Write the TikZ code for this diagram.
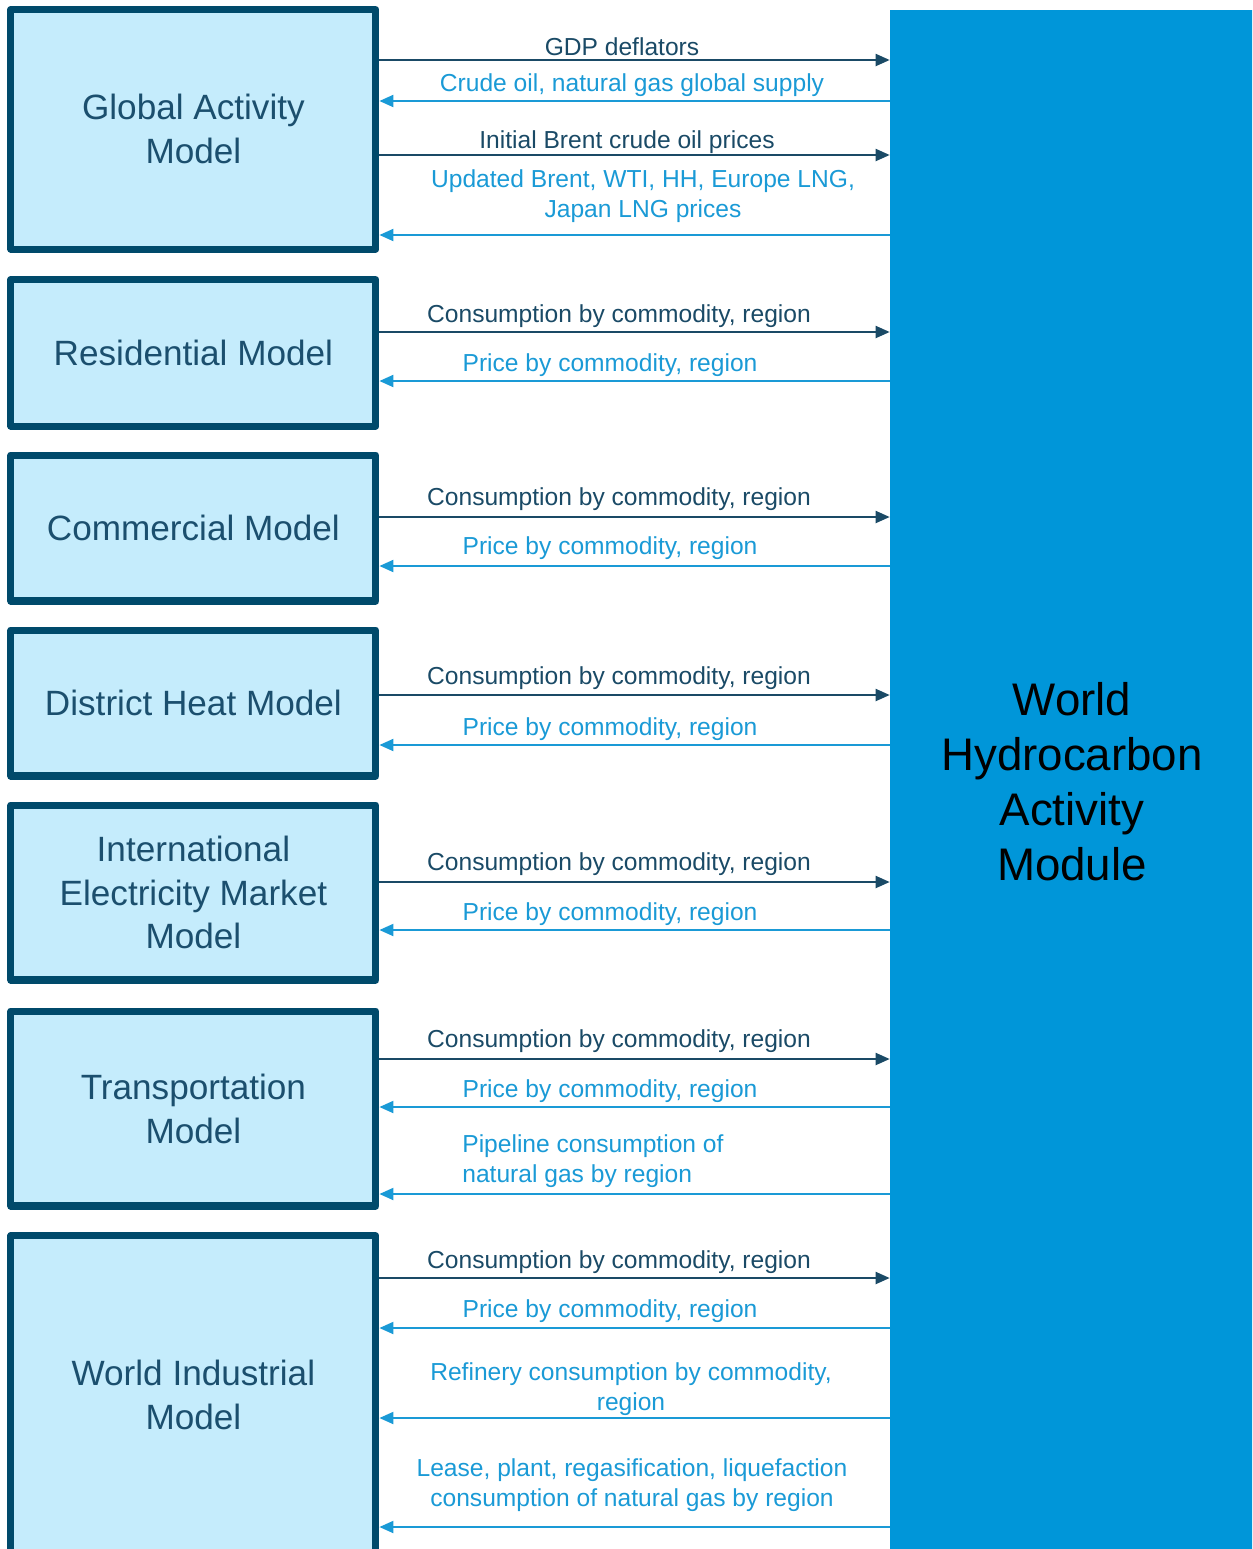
\documentclass[tikz,border=0pt]{standalone}
\usepackage{fontspec}
\setmainfont{Liberation Sans}
\usetikzlibrary{arrows.meta}
\definecolor{modelfill}{HTML}{C5ECFC}
\definecolor{modelline}{HTML}{004A6B}
\definecolor{modeltext}{HTML}{1B4F6E}
\definecolor{darkarrow}{HTML}{1A4A66}
\definecolor{lightarrow}{HTML}{1A9AD6}
\definecolor{modulefill}{HTML}{0096D9}
\tikzset{
  model/.style={draw=modelline, fill=modelfill, line width=4pt, line join=round, minimum width=7.3cm,
    align=center, text=modeltext, font=\fontsize{20}{25}\selectfont},
  outarr/.style={draw=darkarrow, line width=1.1pt, -{Triangle[length=0.28cm,width=0.24cm]}},
  inarr/.style={draw=lightarrow, line width=1.1pt, -{Triangle[length=0.28cm,width=0.24cm]}},
  outlbl/.style={text=darkarrow, inner sep=0pt, font=\fontsize{14}{17}\selectfont},
  inlbl/.style={text=lightarrow, inner sep=0pt, align=center, font=\fontsize{14}{17}\selectfont},
}
\begin{document}
\begin{tikzpicture}[x=0.02cm, y=-0.02cm]
    \path[use as bounding box] (0,0) rectangle (1252,1549);
    \clip (0,0) rectangle (1252,1549);

    \node[fill=modulefill, minimum width=7.28cm, minimum height=30.88cm, align=center,
      font=\fontsize{26}{31.3}\selectfont] (whm) at (1072,782) {World\\Hydrocarbon\\Activity\\Module};

    \node[model, minimum height=4.79cm] (gam) at (193.4,129.3) {Global Activity\\Model};
    \node[model, minimum height=2.93cm] (res) at (193.4,352.9) {Residential Model};
    \node[model, minimum height=2.92cm] (com) at (193.4,528) {Commercial Model};
    \node[model, minimum height=2.92cm] (dhm) at (193.4,703) {District Heat Model};
    \node[model, minimum height=3.5cm] (iem) at (193.4,892.5) {International\\Electricity Market\\Model};
    \node[model, minimum height=3.9cm] (trn) at (193.4,1108.5) {Transportation\\Model};
    \node[model, minimum height=6.37cm] (wim) at (193.4,1395) {World Industrial\\Model};

    \node[outlbl] (gdp) at (622,47) {GDP deflators};
    \node[inlbl] (sup) at (632,85) {Crude oil, natural gas global supply};
    \node[outlbl] (brent) at (627,142) {Initial Brent crude oil prices};
    \node[inlbl] (upd) at (643,196) {Updated Brent, WTI, HH, Europe LNG,\\Japan LNG prices};
    \draw[outarr] (gam.east |- 0,60) -- (whm.west |- 0,60);
    \draw[inarr] (whm.west |- 0,101) -- (gam.east |- 0,101);
    \draw[outarr] (gam.east |- 0,155) -- (whm.west |- 0,155);
    \draw[inarr] (whm.west |- 0,235) -- (gam.east |- 0,235);

    \node[outlbl] (rescons) at (619,316) {Consumption by commodity, region};
    \node[inlbl] (resprice) at (610,365) {Price by commodity, region};
    \draw[outarr] (res.east |- 0,332) -- (whm.west |- 0,332);
    \draw[inarr] (whm.west |- 0,381) -- (res.east |- 0,381);

    \node[outlbl] (comcons) at (619,499) {Consumption by commodity, region};
    \node[inlbl] (comprice) at (610,548) {Price by commodity, region};
    \draw[outarr] (com.east |- 0,517) -- (whm.west |- 0,517);
    \draw[inarr] (whm.west |- 0,566) -- (com.east |- 0,566);

    \node[outlbl] (dhmcons) at (619,678) {Consumption by commodity, region};
    \node[inlbl] (dhmprice) at (610,729) {Price by commodity, region};
    \draw[outarr] (dhm.east |- 0,695) -- (whm.west |- 0,695);
    \draw[inarr] (whm.west |- 0,745) -- (dhm.east |- 0,745);

    \node[outlbl] (iemcons) at (619,864) {Consumption by commodity, region};
    \node[inlbl] (iemprice) at (610,914) {Price by commodity, region};
    \draw[outarr] (iem.east |- 0,882) -- (whm.west |- 0,882);
    \draw[inarr] (whm.west |- 0,930) -- (iem.east |- 0,930);

    \node[outlbl] (trncons) at (619,1041) {Consumption by commodity, region};
    \node[inlbl] (trnprice) at (610,1091) {Price by commodity, region};
    \node[inlbl, align=left, anchor=west] (pipe) at (462,1161) {Pipeline consumption of\\natural gas by region};
    \draw[outarr] (trn.east |- 0,1059) -- (whm.west |- 0,1059);
    \draw[inarr] (whm.west |- 0,1107) -- (trn.east |- 0,1107);
    \draw[inarr] (whm.west |- 0,1194) -- (trn.east |- 0,1194);

    \node[outlbl] (wimcons) at (619,1262) {Consumption by commodity, region};
    \node[inlbl] (wimprice) at (610,1311) {Price by commodity, region};
    \node[inlbl] (refin) at (631,1389) {Refinery consumption by commodity,\\region};
    \node[inlbl] (lease) at (632,1485) {Lease, plant, regasification, liquefaction\\consumption of natural gas by region};
    \draw[outarr] (wim.east |- 0,1278) -- (whm.west |- 0,1278);
    \draw[inarr] (whm.west |- 0,1328) -- (wim.east |- 0,1328);
    \draw[inarr] (whm.west |- 0,1418) -- (wim.east |- 0,1418);
    \draw[inarr] (whm.west |- 0,1527) -- (wim.east |- 0,1527);
\end{tikzpicture}
\end{document}
